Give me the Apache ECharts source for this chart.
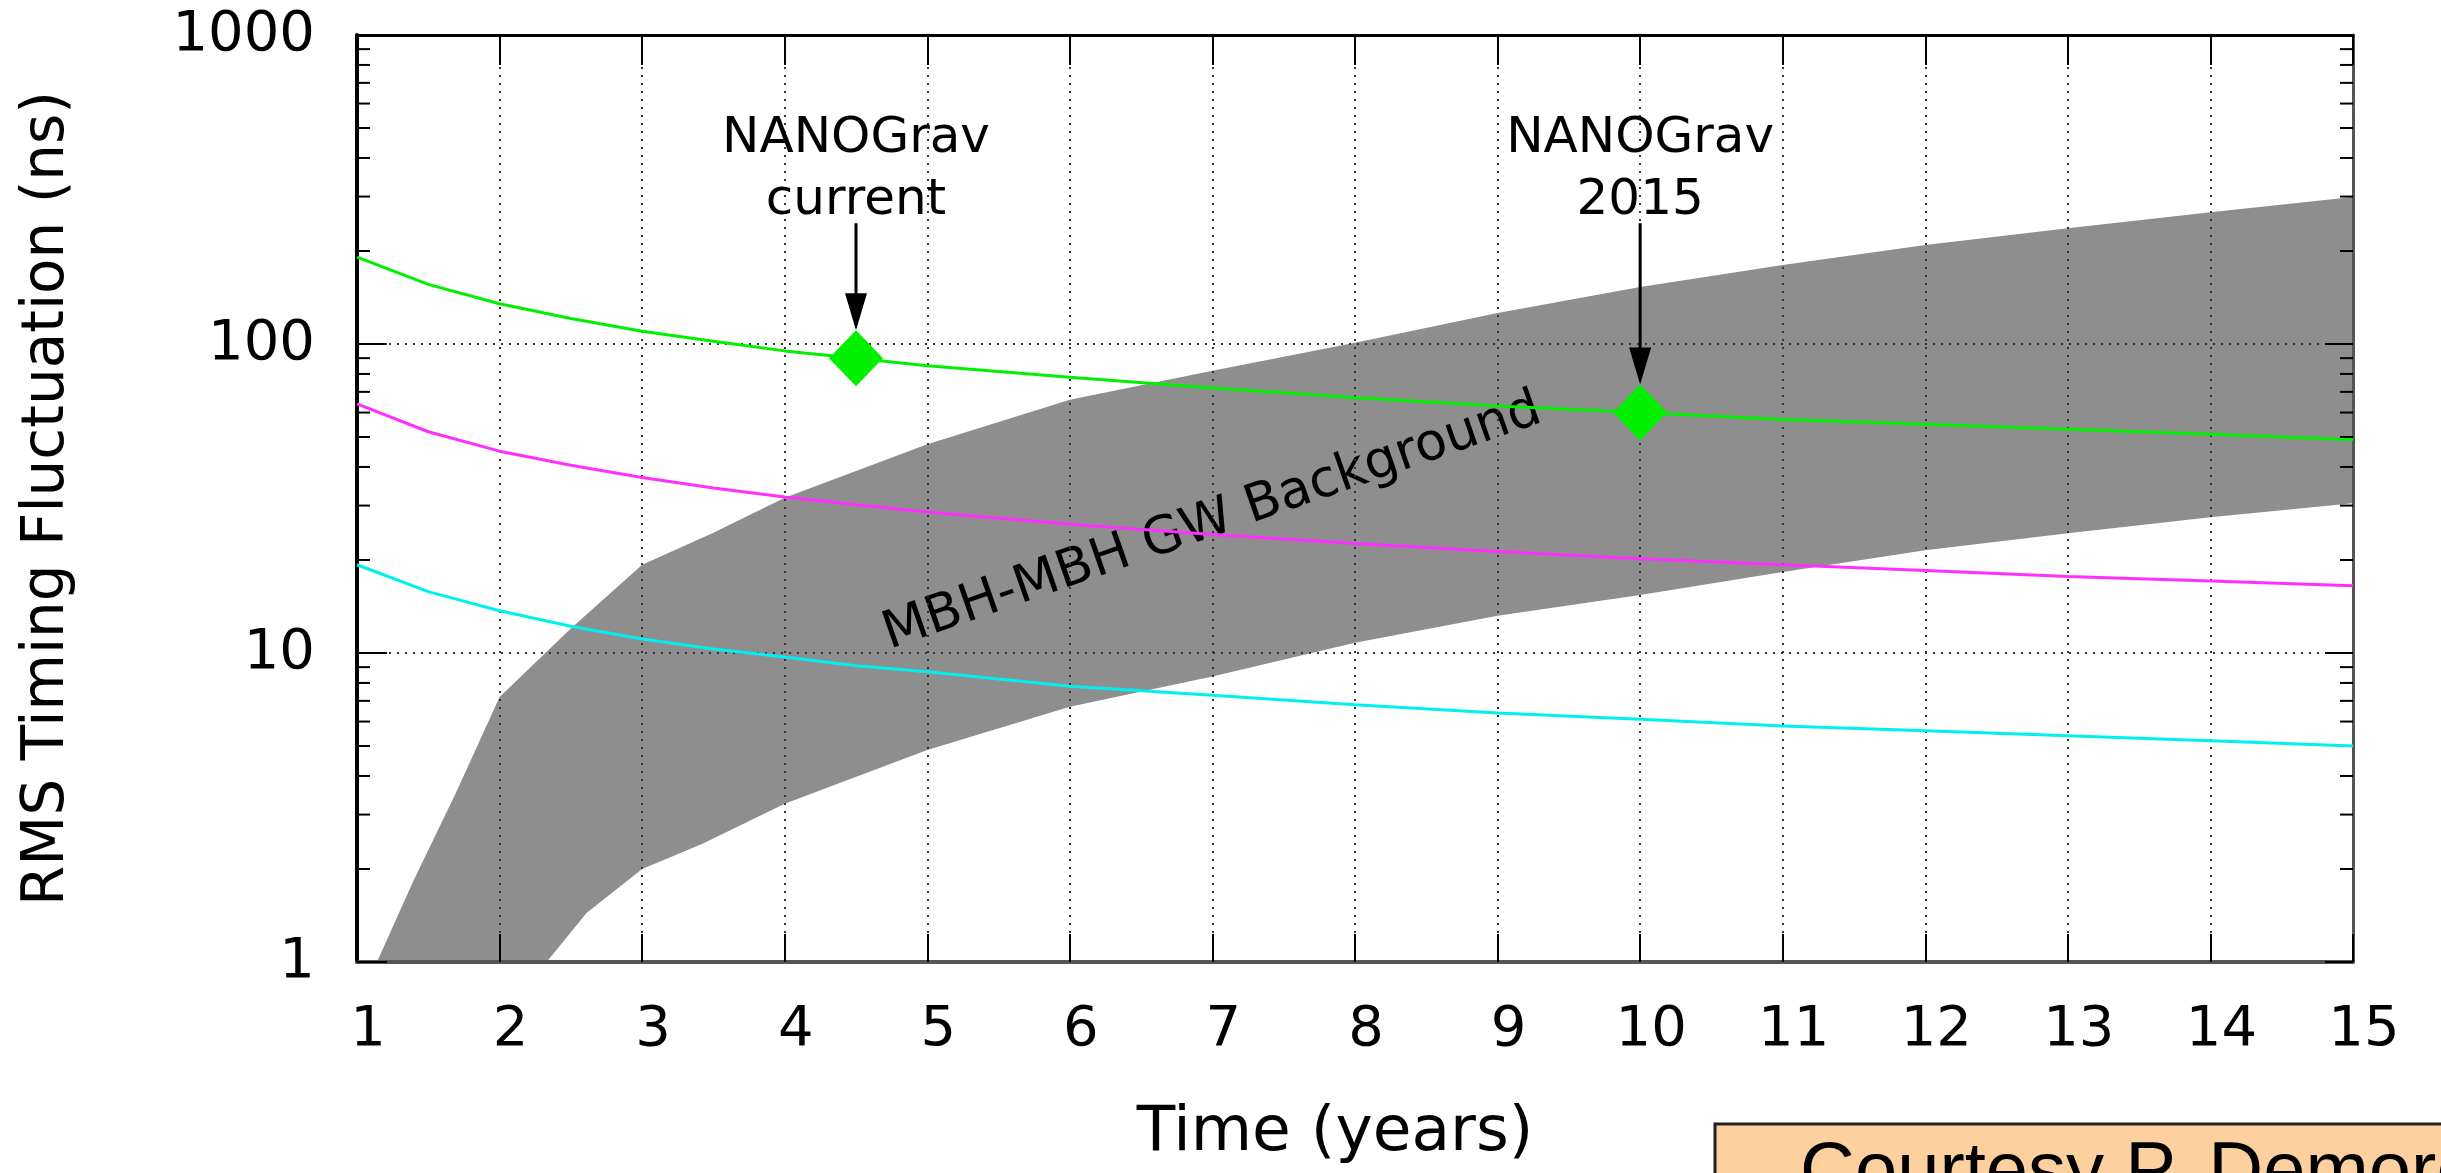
<!DOCTYPE html>
<html><head><meta charset="utf-8">
<script src="https://cdn.jsdelivr.net/npm/echarts/dist/echarts.min.js"></script>
<style>html,body{margin:0;padding:0;background:#fff}#c{width:2441px;height:1173px}</style>
</head><body><div id="c"></div>
<script>
// ---- data ----
const years = [1, 1.5, 2, 2.5, 3, 3.5, 4, 4.5, 5, 6, 7, 8, 9, 10, 11, 12, 13, 14, 15];
const greenRms   = [191, 156, 135, 121, 110, 102, 95, 90, 85, 78, 72, 67, 63, 60, 57, 55, 53, 51, 49];
const magentaRms = [64, 52, 45, 40.5, 37, 34.2, 32, 30.2, 28.6, 26.1, 24.2, 22.6, 21.3, 20.2, 19.3, 18.5, 17.7, 17.1, 16.5];
const cyanRms    = [19.3, 15.8, 13.7, 12.2, 11.1, 10.3, 9.7, 9.1, 8.7, 7.8, 7.3, 6.8, 6.4, 6.1, 5.8, 5.6, 5.4, 5.2, 5.0];
const bandUpper = [[1.14, 1], [1.4, 1.85], [1.69, 3.5], [2, 7.2], [2.5, 12.0], [3, 19.3], [3.5, 24.5], [4, 31.8], [5, 47.4], [6, 66], [7, 82], [8, 101], [9, 126], [10, 153], [11, 180], [12, 209], [13, 237], [14, 267], [15, 299]];
const bandLower = [[2.33, 1], [2.61, 1.44], [3, 2.0], [3.42, 2.41], [4, 3.25], [5, 4.85], [6, 6.7], [7, 8.4], [8, 10.8], [9, 13.2], [10, 15.4], [11, 18.3], [12, 21.5], [13, 24.4], [14, 27.5], [15, 30.5]];
const nanogravPoints = [[4.5, 90], [10, 60]];
const nanogravLabels = ['NANOGrav\ncurrent', 'NANOGrav\n2015'];
const arrowTopValue = 246;
const bandLabel = 'MBH-MBH GW Background';
const bandLabelAt = [7.0, 26.5];
const xMin = 1, xMax = 15, xStep = 1;
const yMin = 1, yMax = 1000;
const yMinorTicks = [2,3,4,5,6,7,8,9,20,30,40,50,60,70,80,90,200,300,400,500,600,700,800,900];
const xTitle = 'Time (years)';
const yTitle = 'RMS Timing Fluctuation (ns)';
const credit = 'Courtesy P. Demorest';

const FONT = 'DejaVu Sans';
const chart = echarts.init(document.getElementById('c'));
const gridLine = {show: true, lineStyle: {color: '#333', width: 2, type: [2, 6]}};

const option = {
  animation: false,
  backgroundColor: '#fff',
  grid: {left: 357, right: 88, top: 35, bottom: 211, outerBoundsMode: 'none', containLabel: false},
  xAxis: [{
    type: 'value', min: xMin, max: xMax, interval: xStep, position: 'bottom',
    axisLine: {show: true, onZero: false, lineStyle: {color: '#555', width: 4}},
    axisTick: {show: true, inside: true, length: 28, lineStyle: {color: '#000', width: 2}},
    axisLabel: {fontSize: 56, fontFamily: FONT, color: '#000', margin: 40, padding: [0, 0, 0, 22]},
    splitLine: gridLine,
    name: xTitle, nameLocation: 'middle', nameGap: 140,
    nameTextStyle: {fontSize: 63, fontFamily: FONT, color: '#000', padding: [0, 40, 0, 0]}
  }, {
    type: 'value', min: xMin, max: xMax, interval: xStep, position: 'top',
    axisLine: {show: true, onZero: false, lineStyle: {color: '#000', width: 3}},
    axisTick: {show: true, inside: true, length: 30, lineStyle: {color: '#000', width: 2}},
    axisLabel: {show: false}, splitLine: {show: false}
  }],
  yAxis: [{
    type: 'log', logBase: 10, min: yMin, max: yMax, position: 'left',
    axisLine: {show: true, onZero: false, lineStyle: {color: '#000', width: 4}},
    axisTick: {show: true, inside: true, length: 30, lineStyle: {color: '#000', width: 2}},
    axisLabel: {fontSize: 56, fontFamily: FONT, color: '#000', margin: 42, formatter: v => String(Math.round(v))},
    splitLine: gridLine,
    name: yTitle, nameLocation: 'middle', nameGap: 280, nameRotate: 90,
    nameTextStyle: {fontSize: 58, fontFamily: FONT, color: '#000'}
  }, {
    type: 'log', logBase: 10, min: yMin, max: yMax, position: 'right',
    axisLine: {show: true, onZero: false, lineStyle: {color: '#555', width: 3}},
    axisTick: {show: true, inside: true, length: 28, lineStyle: {color: '#000', width: 2}},
    axisLabel: {show: false}, splitLine: {show: false}
  }],
  series: [
    {
      type: 'custom', z: -1, silent: true,
      data: bandUpper,
      renderItem: function (params, api) {
        if (params.dataIndex !== 0) return null;
        const pts = bandUpper.map(p => api.coord(p))
          .concat(bandLower.slice().reverse().map(p => api.coord(p)));
        const c = api.coord(bandLabelAt);
        return {type: 'group', children: [
          {type: 'polygon', shape: {points: pts}, style: {fill: '#8e8e8e'}},
          {type: 'text', x: c[0], y: c[1], rotation: 0.335,
           style: {text: bandLabel, font: '52px "DejaVu Sans"', fill: '#000', align: 'center', verticalAlign: 'middle'}}
        ]};
      }
    },
    {
      type: 'custom', silent: true,
      data: yMinorTicks.map(v => [xMin, v]),
      renderItem: function (params, api) {
        const v = api.value(1);
        const l = api.coord([xMin, v]);
        const r = api.coord([xMax, v]);
        return {type: 'group', children: [
          {type: 'line', shape: {x1: l[0], y1: l[1], x2: l[0] + 13, y2: l[1]}, style: {stroke: '#000', lineWidth: 2}},
          {type: 'line', shape: {x1: r[0] - 13, y1: r[1], x2: r[0], y2: r[1]}, style: {stroke: '#000', lineWidth: 2}}
        ]};
      }
    },
    {type: 'line', data: years.map((x, i) => [x, greenRms[i]]), showSymbol: false, lineStyle: {color: '#00f000', width: 3}},
    {type: 'line', data: years.map((x, i) => [x, magentaRms[i]]), showSymbol: false, lineStyle: {color: '#ff30ff', width: 3}},
    {type: 'line', data: years.map((x, i) => [x, cyanRms[i]]), showSymbol: false, lineStyle: {color: '#00f0f0', width: 3}},
    {type: 'scatter', data: nanogravPoints, symbol: 'diamond', symbolSize: [54, 56], itemStyle: {color: '#00f000', opacity: 1}, z: 5},
    {
      type: 'custom', silent: true, z: 6,
      data: nanogravPoints,
      renderItem: function (params, api) {
        const p = api.coord([api.value(0), api.value(1)]);
        const top = api.coord([api.value(0), arrowTopValue]);
        const tipY = p[1] - 28;
        return {type: 'group', children: [
          {type: 'line', shape: {x1: p[0], y1: top[1], x2: p[0], y2: tipY - 30}, style: {stroke: '#000', lineWidth: 3}},
          {type: 'polygon', shape: {points: [[p[0], tipY], [p[0] - 11, tipY - 37], [p[0] + 11, tipY - 37]]}, style: {fill: '#000'}},
          {type: 'text', x: p[0], y: top[1] - 53,
           style: {text: nanogravLabels[params.dataIndex], font: '50px "DejaVu Sans"', fill: '#000', align: 'center', verticalAlign: 'middle', lineHeight: 62}}
        ]};
      }
    }
  ],
  graphic: [
    {type: 'rect', shape: {x: 1715, y: 1124, width: 800, height: 120}, style: {fill: '#fdd0a0', stroke: '#222', lineWidth: 3}},
    {type: 'text', x: 1800, y: 1174, style: {text: credit, font: '76px "Liberation Sans"', fill: '#000', verticalAlign: 'middle'}}
  ]
};
chart.setOption(option);
</script>
</body></html>
